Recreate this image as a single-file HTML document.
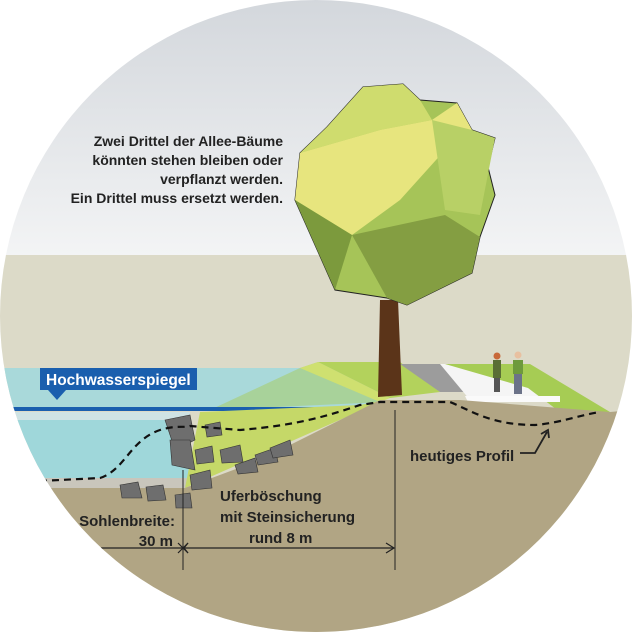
<!DOCTYPE html>
<html><head><meta charset="utf-8"><style>
html,body{margin:0;padding:0;background:#fff}
svg{display:block}
text{font-family:"Liberation Sans",sans-serif;font-weight:bold;fill:#222}
</style></head><body>
<svg width="632" height="632" viewBox="0 0 632 632" xmlns="http://www.w3.org/2000/svg">
<defs>
<clipPath id="c"><circle cx="316" cy="316" r="316"/></clipPath>
<linearGradient id="sky" x1="0" y1="0" x2="0" y2="1">
<stop offset="0" stop-color="#d3d7dc"/><stop offset="1" stop-color="#f3f4f5"/></linearGradient>
</defs>
<g clip-path="url(#c)">
<rect width="632" height="256" fill="url(#sky)"/>
<rect y="255" width="632" height="377" fill="#dcdac8"/>
<!-- water -->
<polygon points="0,368 300,368 380,400 380,410 0,410" fill="#a9d9da"/>
<polygon points="210,410 300,368 318,362 385,402" fill="#a8d29a"/>
<rect x="0" y="412" width="190" height="10" fill="#cfe3e4"/>
<polygon points="0,420 190,420 190,478 0,478" fill="#9fd7da"/>
<rect x="0" y="478" width="190" height="10" fill="#c9c6bc"/>
<line x1="12" y1="409" x2="360" y2="409" stroke="#1a5fae" stroke-width="4"/>
<!-- green slope -->
<polygon points="185,488 200,412 360,405 385,400" fill="#c5d868"/>
<polygon points="300,368 318,362 390,398 380,402" fill="#cfe070"/>
<polygon points="318,362 400,362 440,392 390,398" fill="#b3d25c"/>
<!-- path right -->
<polygon points="400,364 450,364 490,392 440,392" fill="#9c9c9c"/>
<polygon points="440,364 530,364 560,400 470,400" fill="#f5f5f5"/>
<polygon points="445,364 530,364 610,412 560,412 528,388" fill="#a6cc54"/>
<polygon points="465,396 560,396 560,402 468,402" fill="#fafafa"/>
<!-- ground -->
<polygon points="0,488 185,488 260,460 380,400 460,400 610,412 632,410 632,632 0,632" fill="#b1a584"/>
<!-- stones -->
<g fill="#6e6e6e" stroke="#333" stroke-width="0.6">
<polygon points="165,420 190,415 195,440 175,450"/><polygon points="170,440 190,440 195,470 172,465"/>
<polygon points="190,475 210,470 212,488 192,490"/><polygon points="120,485 138,482 142,498 122,498"/>
<polygon points="146,487 163,485 166,500 148,501"/><polygon points="175,495 190,493 192,508 176,508"/>
<polygon points="205,425 220,422 222,435 207,437"/><polygon points="220,450 240,445 243,462 222,463"/>
<polygon points="235,465 255,458 258,472 238,474"/><polygon points="255,455 275,448 278,462 258,465"/>
<polygon points="270,448 290,440 293,455 273,458"/><polygon points="195,450 212,446 214,462 197,464"/>
</g>
<!-- trunk -->
<polygon points="380,300 398,300 402,395 378,397" fill="#5b3419"/>
<!-- tree -->
<polygon points="363,87 403,84 420,100 457,103 472,130 495,138 488,167 495,195 480,237 472,273 407,305 387,298 335,290 295,200 300,153 327,127" fill="#a6c458" stroke="#222" stroke-width="1"/>
<polygon points="363,87 403,84 420,100 432,120 380,130 300,153 327,127" fill="#cfdc6e"/>
<polygon points="300,153 380,130 432,120 445,150 400,200 352,235 295,200" fill="#e7e57e"/>
<polygon points="432,120 457,103 472,130 495,138 480,215 445,210" fill="#b8d066"/>
<polygon points="295,200 352,235 335,290" fill="#7c9a3d"/>
<polygon points="352,235 445,215 480,237 472,273 407,305 387,298" fill="#849e42"/>
<polygon points="457,103 472,130 432,120" fill="#e7e57e"/>
<!-- dashed profile -->
<path d="M40,481 L100,478 C125,470 130,440 160,430 C175,425 185,428 190,426 L240,430 C300,425 330,415 360,405 L380,402 L450,402 C470,410 490,425 535,425 C560,423 580,415 600,412" fill="none" stroke="#111" stroke-width="2.2" stroke-dasharray="7,5"/>
<!-- dimension lines -->
<line x1="183" y1="470" x2="183" y2="570" stroke="#222" stroke-width="1"/>
<line x1="395" y1="410" x2="395" y2="570" stroke="#222" stroke-width="1"/>
<line x1="60" y1="548" x2="393" y2="548" stroke="#222" stroke-width="1.2"/>
<path d="M178,543 L188,553 M188,543 L178,553" stroke="#222" stroke-width="1.2"/>
<path d="M386,543 L394,548 L386,553 M188,543 L184,548 L188,553" fill="none" stroke="#222" stroke-width="1.2"/>
<!-- arrow heutiges -->
<path d="M520,453 L535,453 L547,432 M541,434 L548,430 L549,438" fill="none" stroke="#222" stroke-width="1.8"/>
<!-- people -->
<rect x="493" y="360" width="8" height="18" fill="#5a6e35"/><rect x="494" y="378" width="6" height="14" fill="#555"/><circle cx="497" cy="356" r="3.5" fill="#c8693a"/>
<rect x="513" y="360" width="10" height="14" fill="#6e9a3c"/><rect x="514" y="374" width="8" height="20" fill="#6b7288"/><circle cx="518" cy="355" r="3.5" fill="#e8c0a0"/>
<!-- label -->
<rect x="40" y="368" width="157" height="22" fill="#1a5fae"/>
<polygon points="48,390 66,390 57,400" fill="#1a5fae"/>
<text x="46" y="385" font-size="15.5" style="fill:#fff">Hochwasserspiegel</text>
</g>
<g font-size="14">
<text x="283" y="146" text-anchor="end">Zwei Drittel der Allee-Bäume</text>
<text x="283" y="165" text-anchor="end">könnten stehen bleiben oder</text>
<text x="283" y="184" text-anchor="end">verpflanzt werden.</text>
<text x="283" y="203" text-anchor="end">Ein Drittel muss ersetzt werden.</text>
</g>
<g font-size="15">
<text x="410" y="461">heutiges Profil</text>
<text x="220" y="501">Uferböschung</text>
<text x="220" y="522">mit Steinsicherung</text>
<text x="249" y="543">rund 8 m</text>
<text x="175" y="526" text-anchor="end">Sohlenbreite:</text>
<text x="173" y="546" text-anchor="end">30 m</text>
</g>
</svg>
</body></html>
